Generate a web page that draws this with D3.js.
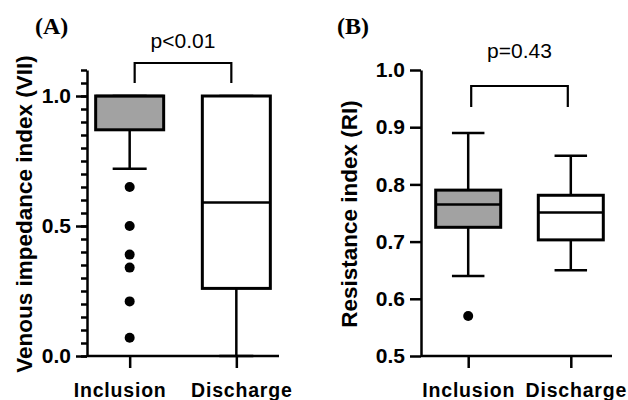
<!DOCTYPE html>
<html>
<head>
<meta charset="utf-8">
<script src="https://cdn.jsdelivr.net/npm/d3@7"></script>
<style>
	body { margin: 0; background: #fff; }
	svg { display: block; font-family: "Liberation Sans", Arial, sans-serif; }
	.tick text { font-family: "Liberation Sans", Arial, sans-serif; font-size: 21px; font-weight: bold; fill: #000; }
	.tick line { stroke: #000; stroke-width: 2.5px; }
	.domain { stroke: #000; stroke-width: 2.5px; }
</style>
</head>
<body>
<div id="chart"></div>
<script>

// groups on the x axis
var groups = ["Inclusion", "Discharge"];

// (A) venous impedance index
var viiMin     = [0.72, 0.00];
var viiQ1      = [0.87, 0.26];
var viiMedian  = [1.00, 0.59];
var viiQ3      = [1.00, 1.00];
var viiMax     = [1.00, 1.00];
var viiOutliers = [[0.65, 0.50, 0.39, 0.34, 0.21, 0.07], []];
var viiTicks   = [0, 0.5, 1.0];
var viiMinor   = [0, 0.05, 0.1, 0.15, 0.2, 0.25, 0.3, 0.35, 0.4, 0.45, 0.5,
                  0.55, 0.6, 0.65, 0.7, 0.75, 0.8, 0.85, 0.9, 0.95, 1.0, 1.05, 1.1];

// (B) resistance index
var riMin      = [0.64, 0.65];
var riQ1       = [0.725, 0.703];
var riMedian   = [0.765, 0.751];
var riQ3       = [0.79, 0.781];
var riMax      = [0.89, 0.85];
var riOutliers = [[0.57], []];
var riTicks    = [0.5, 0.6, 0.7, 0.8, 0.9, 1.0];

var fills = ["#a2a2a2", "#ffffff"];

var svg = d3.select("#chart").append("svg")
	.attr("width", 628)
	.attr("height", 400);

function drawPanel(p) {
	var g = svg.append("g");

	var y = d3.scaleLinear().domain(p.yDomain).range([356, 70]);
	var x = d3.scalePoint().domain(groups).range([p.left, p.xEnd]).padding(p.pad);

	// minor ticks (panel A only)
	if (p.minor) {
		g.append("g")
			.attr("transform", "translate(" + p.left + ",0)")
			.call(d3.axisLeft(y).tickValues(p.minor).tickSize(6).tickFormat(""))
			.select(".domain").remove();
	}

	g.append("g")
		.attr("transform", "translate(" + p.left + ",0)")
		.call(d3.axisLeft(y).tickValues(p.ticks).tickSize(11).tickSizeOuter(0)
			.tickPadding(5).tickFormat(d3.format(".1f")));

	var xa = g.append("g")
		.attr("transform", "translate(0,356)")
		.call(d3.axisBottom(x).tickSize(12).tickPadding(15));
	xa.select(".domain").remove();
	xa.selectAll(".tick text")
		.style("font-size", "19.5px")
		.style("letter-spacing", "0.8px")
		.attr("dx", function(d, i) { return p.labelShift[i]; });

	g.append("line")
		.attr("x1", p.left).attr("x2", p.axisEnd)
		.attr("y1", 356).attr("y2", 356)
		.attr("stroke", "#000").attr("stroke-width", 2.5);

	var bw = p.boxW, cw = p.boxW / 2;

	groups.forEach(function(name, i) {
		var cx = x(name);
		// whiskers
		g.append("line")
			.attr("x1", cx).attr("x2", cx)
			.attr("y1", y(p.max[i])).attr("y2", y(p.min[i]))
			.attr("stroke", "#000").attr("stroke-width", 2.5);
		[p.max[i], p.min[i]].forEach(function(v) {
			g.append("line")
				.attr("x1", cx - cw / 2).attr("x2", cx + cw / 2)
				.attr("y1", y(v)).attr("y2", y(v))
				.attr("stroke", "#000").attr("stroke-width", 2.5);
		});
		// box
		g.append("rect")
			.attr("x", cx - bw / 2)
			.attr("y", y(p.q3[i]))
			.attr("width", bw)
			.attr("height", y(p.q1[i]) - y(p.q3[i]))
			.attr("fill", fills[i])
			.attr("stroke", "#000").attr("stroke-width", 3);
		g.append("line")
			.attr("x1", cx - bw / 2).attr("x2", cx + bw / 2)
			.attr("y1", y(p.median[i])).attr("y2", y(p.median[i]))
			.attr("stroke", "#000").attr("stroke-width", 2.5);
		// outliers
		g.selectAll(null)
			.data(p.outliers[i])
			.enter()
			.append("circle")
			.attr("cx", cx)
			.attr("cy", function(d) { return y(d); })
			.attr("r", 5)
			.attr("fill", "#000");
	});

	// significance bracket
	var x0 = x(groups[0]) + p.brInset, x1 = x(groups[1]) - p.brInset;
	g.append("path")
		.attr("d", "M" + x0 + "," + p.brLeg + "V" + p.brTop + "H" + x1 + "V" + p.brLeg)
		.attr("fill", "none")
		.attr("stroke", "#000").attr("stroke-width", 2.2);
	g.append("text")
		.attr("x", (x0 + x1) / 2)
		.attr("y", p.pY)
		.attr("text-anchor", "middle")
		.style("font-size", "21px")
		.text(p.pText);

	// y axis title
	g.append("text")
		.attr("transform", "translate(" + p.titleX + ",214) rotate(-90)")
		.attr("text-anchor", "middle")
		.style("font-size", "22.5px")
		.style("font-weight", "bold")
		.text(p.title);

	// panel letter
	g.append("text")
		.attr("x", p.letterX)
		.attr("y", 34)
		.style("font-family", "'Liberation Serif', 'Times New Roman', serif")
		.style("font-size", "24px")
		.style("font-weight", "bold")
		.text(p.letter);
}

drawPanel({
	yDomain: [0, 1.1], ticks: viiTicks, minor: viiMinor,
	left: 87, xEnd: 279, axisEnd: 279, pad: 0.4, boxW: 68,
	labelShift: [-10, 5],
	min: viiMin, q1: viiQ1, median: viiMedian, q3: viiQ3, max: viiMax, outliers: viiOutliers,
	brTop: 63, brLeg: 83, brInset: 5, pY: 48, pText: "p<0.01",
	title: "Venous impedance index (VII)", titleX: 32,
	letter: "(A)", letterX: 35
});

drawPanel({
	yDomain: [0.5, 1.0], ticks: riTicks, minor: null,
	left: 421, xEnd: 618, axisEnd: 612, pad: 0.46, boxW: 65,
	labelShift: [0, 5],
	min: riMin, q1: riQ1, median: riMedian, q3: riQ3, max: riMax, outliers: riOutliers,
	brTop: 86, brLeg: 107, brInset: 3, pY: 58, pText: "p=0.43",
	title: "Resistance index (RI)", titleX: 357,
	letter: "(B)", letterX: 337
});

</script>
</body>
</html>
